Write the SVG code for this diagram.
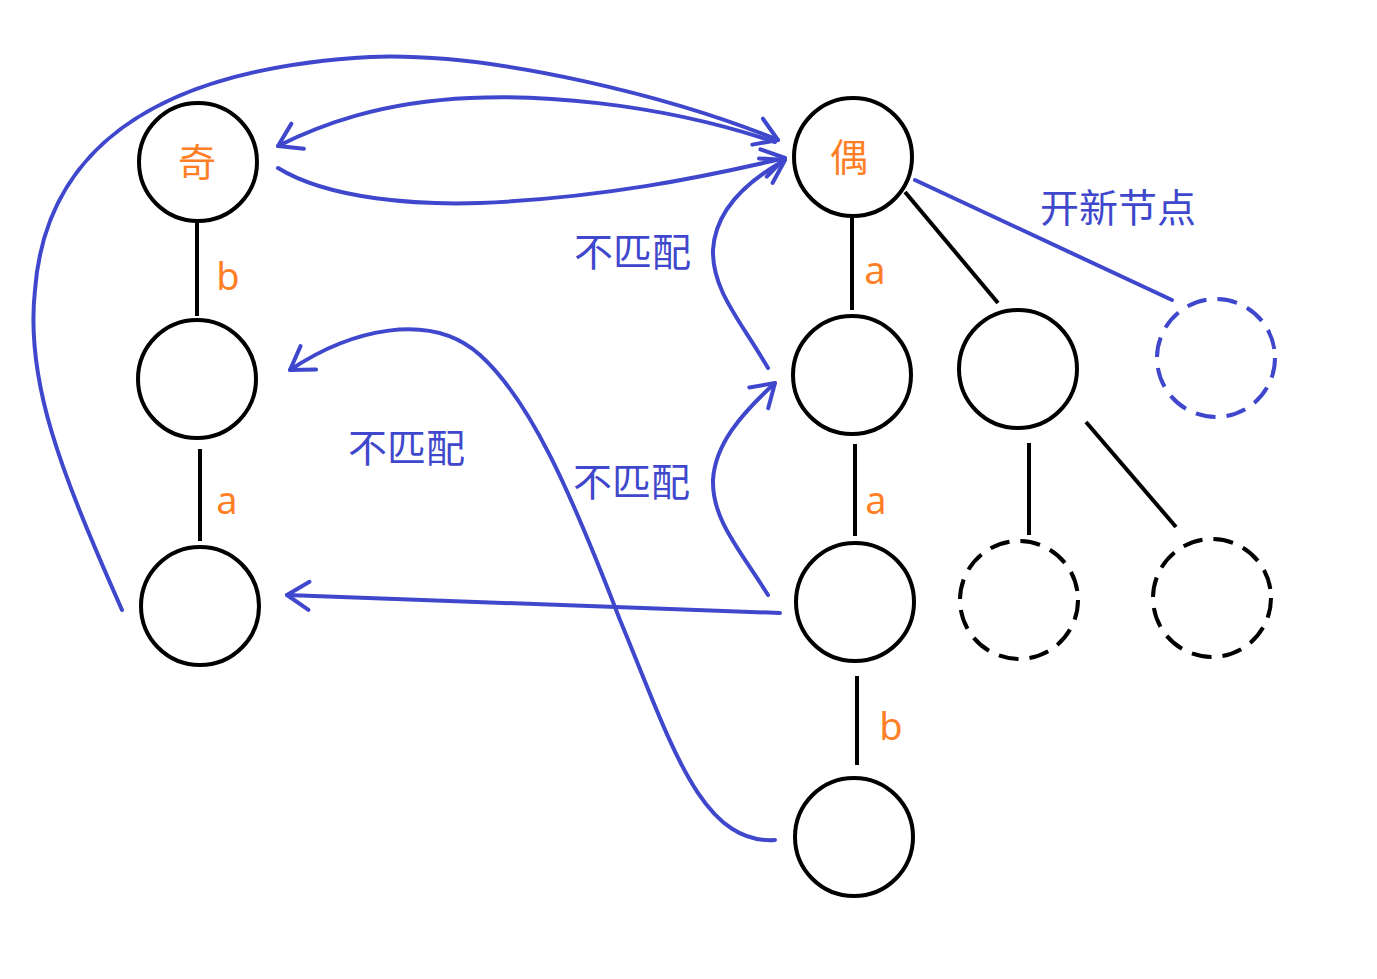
<svg xmlns="http://www.w3.org/2000/svg" width="1377" height="979" viewBox="0 0 1377 979">
<style>
.n{fill:none;stroke:#000;stroke-width:4}
.d{fill:none;stroke:#000;stroke-width:4;stroke-dasharray:20 11}
.bd{fill:none;stroke:#3f48cc;stroke-width:4;stroke-dasharray:20 11}
.e{stroke:#000;stroke-width:4;fill:none}
.c{stroke:#3f48cc;stroke-width:4;fill:none;stroke-linecap:round}
.o{fill:#ff7f27;font-family:"Noto Sans","Noto Sans CJK SC",sans-serif;font-size:38px;text-anchor:middle}
.t{fill:#3f48cc;font-family:"Noto Sans CJK SC",sans-serif;font-size:39px}
</style>
<defs>
<marker id="ah" markerUnits="userSpaceOnUse" markerWidth="50" markerHeight="50" viewBox="-30 -25 50 50" refX="0" refY="0" orient="auto">
<path d="M-22,-14 L0,0 L-22,14" fill="none" stroke="#3f48cc" stroke-width="4" stroke-linecap="round" stroke-linejoin="round"/>
</marker>
</defs>
<g id="edges">
<line class="e" x1="197" y1="222" x2="197" y2="316"/>
<line class="e" x1="200" y1="449" x2="200" y2="541"/>
<line class="e" x1="852" y1="218" x2="852" y2="310"/>
<line class="e" x1="855" y1="444" x2="855" y2="536"/>
<line class="e" x1="857" y1="676" x2="857" y2="765"/>
<line class="e" x1="905" y1="192" x2="998" y2="303"/>
<line class="e" x1="1029" y1="443" x2="1029" y2="535"/>
<line class="e" x1="1086" y1="422" x2="1176" y2="527"/>
</g>
<g id="edge-labels">
<text class="o" x="228" y="290">b</text>
<text class="o" x="227" y="514">a</text>
<text class="o" x="875" y="284">a</text>
<text class="o" x="876" y="514">a</text>
<text class="o" x="891" y="740">b</text>
</g>
<g id="connectors">
<path class="c" marker-end="url(#ah)" d="M122,610 C60,470 25,380 35,290 C45,160 140,70 370,57 C500,52 680,100 778,140"/>
<path class="c" marker-end="url(#ah)" d="M775,142 C650,100 530,95 470,98 C380,102 320,125 278,146"/>
<path class="c" marker-end="url(#ah)" d="M278,168 C330,200 420,205 480,203 C600,198 700,178 785,158"/>
<path class="c" marker-end="url(#ah)" d="M768,368 C740,320 712,290 713,250 C715,215 740,185 785,160"/>
<path class="c" marker-end="url(#ah)" d="M768,595 C740,550 712,520 713,480 C715,445 740,415 775,383"/>
<path class="c" marker-end="url(#ah)" d="M780,613 L287,595"/>
<path class="c" marker-end="url(#ah)" d="M775,840 C700,845 670,740 620,620 C570,490 530,400 480,355 C430,310 350,330 290,370"/>
<path class="c" d="M915,180 L1172,300"/>
</g>
<g id="connector-labels">
<text class="t" x="574" y="266">不匹配</text>
<text class="t" x="348" y="462">不匹配</text>
<text class="t" x="573" y="496">不匹配</text>
<text class="t" x="1040" y="222">开新节点</text>
</g>
<g id="node-odd"><circle class="n" cx="198" cy="162" r="59"/><text class="o" x="197" y="176">奇</text></g>
<g id="node-l2"><circle class="n" cx="197" cy="379" r="59"/></g>
<g id="node-l3"><circle class="n" cx="200" cy="606" r="59"/></g>
<g id="node-even"><circle class="n" cx="853" cy="157" r="59"/><text class="o" x="849" y="171">偶</text></g>
<g id="node-r2"><circle class="n" cx="852" cy="375" r="59"/></g>
<g id="node-r3"><circle class="n" cx="855" cy="602" r="59"/></g>
<g id="node-r4"><circle class="n" cx="854" cy="837" r="59"/></g>
<g id="node-m2"><circle class="n" cx="1018" cy="369" r="59"/></g>
<g id="node-new"><circle class="bd" cx="1216" cy="358" r="59"/></g>
<g id="node-d1"><circle class="d" cx="1019" cy="600" r="59"/></g>
<g id="node-d2"><circle class="d" cx="1212" cy="598" r="59"/></g>
</svg>
